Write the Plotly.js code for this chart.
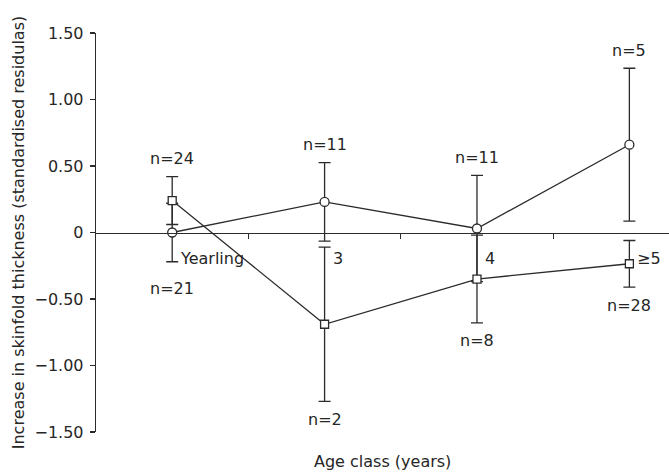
<!DOCTYPE html>
<html>
<head>
<meta charset="utf-8">
<script src="https://cdn.plot.ly/plotly-3.0.1.min.js"></script>
<style>html,body{margin:0;padding:0;background:#fff;}#chart{width:669px;height:472px;}</style>
</head>
<body>
<div id="chart"></div>
<script>
// ---- data ----
const categories = ['Yearling', '3', '4', '\u22655'];
const circleMean = [0.00, 0.23, 0.03, 0.66];
const circleErr  = [0.22, 0.295, 0.40, 0.575];
const squareMean = [0.24, -0.69, -0.35, -0.235];
const squareErr  = [0.18, 0.58, 0.33, 0.175];
const upperN = ['n=24', 'n=11', 'n=11', 'n=5'];
const lowerN = ['n=21', 'n=2', 'n=8', 'n=28'];
const yTickVals = [1.5, 1, 0.5, 0, -0.5, -1, -1.5];
const yTickText = ['1.50', '1.00', '0.50', '0', '\u22120.50', '\u22121.00', '\u22121.50'];

const ink = '#2b2b2b';
const font = {family: 'DejaVu Sans, sans-serif', size: 16, color: '#262626'};
const xs = categories.map((c, i) => i);

const circles = {
  x: xs, y: circleMean, type: 'scatter', mode: 'lines+markers',
  line: {color: ink, width: 1.3},
  marker: {symbol: 'circle', size: 9, color: '#fff', line: {color: ink, width: 1.3}},
  error_y: {type: 'data', array: circleErr, visible: true, color: ink, thickness: 1.3, width: 6},
  hoverinfo: 'skip', showlegend: false
};
const squares = {
  x: xs, y: squareMean, type: 'scatter', mode: 'lines+markers',
  line: {color: ink, width: 1.3},
  marker: {symbol: 'square', size: 8, color: '#fff', line: {color: ink, width: 1.3}},
  error_y: {type: 'data', array: squareErr, visible: true, color: ink, thickness: 1.3, width: 6},
  hoverinfo: 'skip', showlegend: false
};
const axisHolder = {x: [], y: [], xaxis: 'x2', type: 'scatter', showlegend: false, hoverinfo: 'skip'};

const annotations = [];
xs.forEach((x, i) => {
  const top = Math.max(circleMean[i] + circleErr[i], squareMean[i] + squareErr[i]);
  const bot = Math.min(circleMean[i] - circleErr[i], squareMean[i] - squareErr[i]);
  annotations.push({x: x, y: top, xref: 'x', yref: 'y', text: upperN[i], showarrow: false,
    xanchor: 'center', yanchor: 'middle', yshift: 18, font: font});
  annotations.push({x: x, y: bot, xref: 'x', yref: 'y', text: lowerN[i], showarrow: false,
    xanchor: 'center', yanchor: 'middle', yshift: i === 0 ? -27 : -18, font: font});
  annotations.push({x: x, y: 0, xref: 'x', yref: 'y', text: categories[i], showarrow: false,
    xanchor: 'left', yanchor: 'middle', xshift: 6, yshift: -26, font: font});
});
annotations.push({x: 0.5, y: -0.0727, xref: 'paper', yref: 'paper', text: 'Age class (years)',
  showarrow: false, xanchor: 'center', yanchor: 'middle', font: font});

const xRange = [-0.5, 3.26];
const layout = {
  width: 669, height: 472,
  margin: {l: 96, r: 0, t: 33, b: 40, pad: 0},
  paper_bgcolor: '#fff', plot_bgcolor: '#fff',
  font: font,
  showlegend: false,
  xaxis: {range: xRange, showline: false, showgrid: false, zeroline: false,
    showticklabels: false, ticks: '', fixedrange: true},
  xaxis2: {range: xRange, overlaying: 'x', anchor: 'free', position: 0.5,
    showline: true, linecolor: ink, linewidth: 1.3, showgrid: false, zeroline: false,
    ticks: 'outside', ticklen: 5, tickwidth: 1.3, tickcolor: ink,
    tickvals: [0.5, 1.5, 2.5], showticklabels: false, fixedrange: true},
  yaxis: {range: [-1.5, 1.5], showline: true, linecolor: ink, linewidth: 1.3,
    showgrid: false, zeroline: false, ticks: 'outside', ticklen: 5, tickwidth: 1.3, tickcolor: ink,
    tickvals: yTickVals, ticktext: yTickText, tickfont: font, ticklabelstandoff: 3,
    title: {text: 'Increase in skinfold thickness (standardised residulas)', font: font, standoff: 6},
    automargin: false, fixedrange: true},
  annotations: annotations
};

Plotly.newPlot('chart', [circles, squares, axisHolder], layout, {staticPlot: true, displayModeBar: false});
</script>
</body>
</html>
